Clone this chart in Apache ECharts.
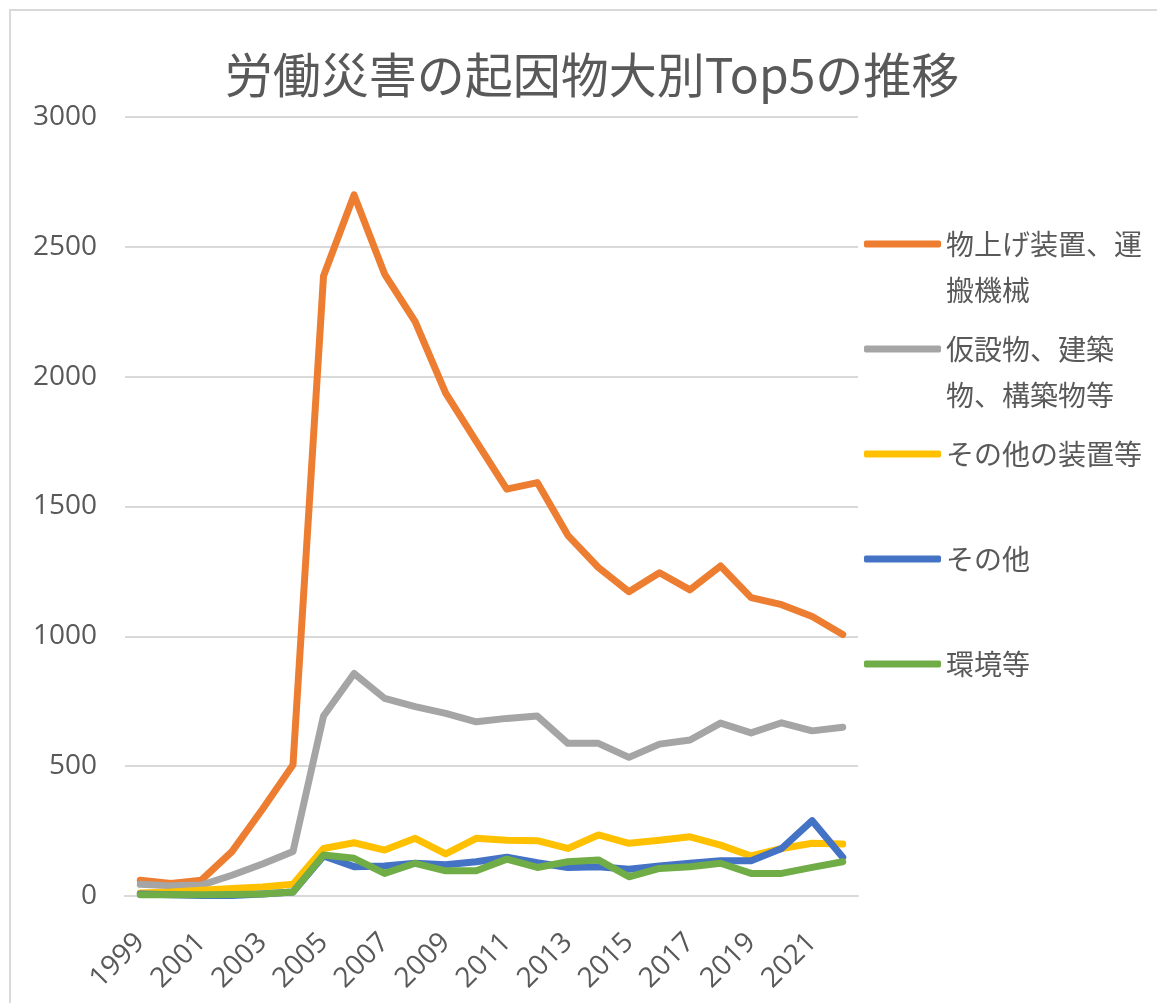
<!DOCTYPE html>
<html>
<head>
<meta charset="utf-8">
<script src="https://cdn.jsdelivr.net/npm/echarts@6/dist/echarts.min.js"></script>
<style>html,body{margin:0;padding:0;background:#fff}#c{width:1157px;height:1003px}</style>
</head>
<body>
<div id="c"></div>
<script>
const years = ['1999','2000','2001','2002','2003','2004','2005','2006','2007','2008','2009','2010','2011','2012','2013','2014','2015','2016','2017','2018','2019','2020','2021','2022'];
const seriesNames = ['物上げ装置、運搬機械','仮設物、建築物、構築物等','その他の装置等','その他','環境等'];
const legendLabels = [' \n物上げ装置、運\n搬機械',' \n仮設物、建築\n物、構築物等','その他の装置等','その他','環境等'];
const liftingTransport = [61,48,61,171,334,505,2388,2700,2395,2212,1937,1751,1567,1592,1389,1265,1172,1245,1179,1271,1149,1122,1076,1007];
const structures = [45,39,42,80,123,171,693,857,761,729,703,671,684,693,588,588,534,585,601,666,628,667,636,650];
const otherDevices = [12,15,22,29,35,45,183,205,177,222,162,222,215,213,183,235,203,215,228,196,154,183,203,200];
const others = [8,5,2,2,8,15,154,113,116,126,120,132,149,128,110,113,103,116,126,136,136,183,290,149];
const environment = [5,5,5,6,8,15,158,145,87,126,97,97,142,110,132,139,74,106,113,126,87,87,110,132];
const yTicks = [0,500,1000,1500,2000,2500,3000];

const colors = ['#ED7D31','#A5A5A5','#FFC000','#4472C4','#70AD47'];
const values = [liftingTransport, structures, otherDevices, others, environment];
const legendCenters = [239,344,449,554,659];
const LH = 46;
const cjk = '"Noto Sans CJK JP","Noto Sans",sans-serif';

const chart = echarts.init(document.getElementById('c'));
chart.setOption({
  backgroundColor:'#fff',
  animation:false,
  graphic:[{type:'rect',shape:{x:10,y:10,width:1170,height:1020},style:{fill:'none',stroke:'#d9d9d9',lineWidth:2},silent:true}],
  title:{text:'労働災害の起因物大別Top5の推移',left:587,top:46,textAlign:'center',
    textStyle:{fontFamily:cjk,fontSize:48,fontWeight:'normal',color:'#595959'}},
  legend: seriesNames.map((n,i)=>{
    const lines = legendLabels[i].split('\n').length;
    return {
      data:[n], orient:'vertical', left:859,
      top: legendCenters[i]-lines*LH/2,
      icon:'roundRect', itemWidth:77, itemHeight:7, itemGap:0,
      formatter: ()=>legendLabels[i],
      textStyle:{fontFamily:cjk,fontSize:28,color:'#595959',lineHeight:LH},
      selectedMode:false
    };
  }),
  grid:{left:125,right:299,top:117,bottom:107,containLabel:false},
  xAxis:{type:'category',data:years,boundaryGap:true,
    axisLine:{show:true,lineStyle:{color:'#d9d9d9',width:2}},
    axisTick:{show:false},
    axisLabel:{interval:1,rotate:45,margin:42,color:'#595959',fontSize:28,fontFamily:'"Open Sans",sans-serif'}},
  yAxis:{type:'value',min:yTicks[0],max:yTicks[yTicks.length-1],interval:500,
    axisLine:{show:false},axisTick:{show:false},
    splitLine:{lineStyle:{color:'#d9d9d9',width:2}},
    axisLabel:{margin:28,color:'#595959',fontSize:28,fontFamily:'"Open Sans",sans-serif',formatter:v=>String(v)}},
  series: seriesNames.map((n,i)=>({
    name:n,type:'line',data:values[i],symbol:'none',showSymbol:false,
    color:colors[i],
    lineStyle:{color:colors[i],width:7,cap:'round',join:'round'},
    emphasis:{disabled:true}
  }))
});
</script>
</body>
</html>
